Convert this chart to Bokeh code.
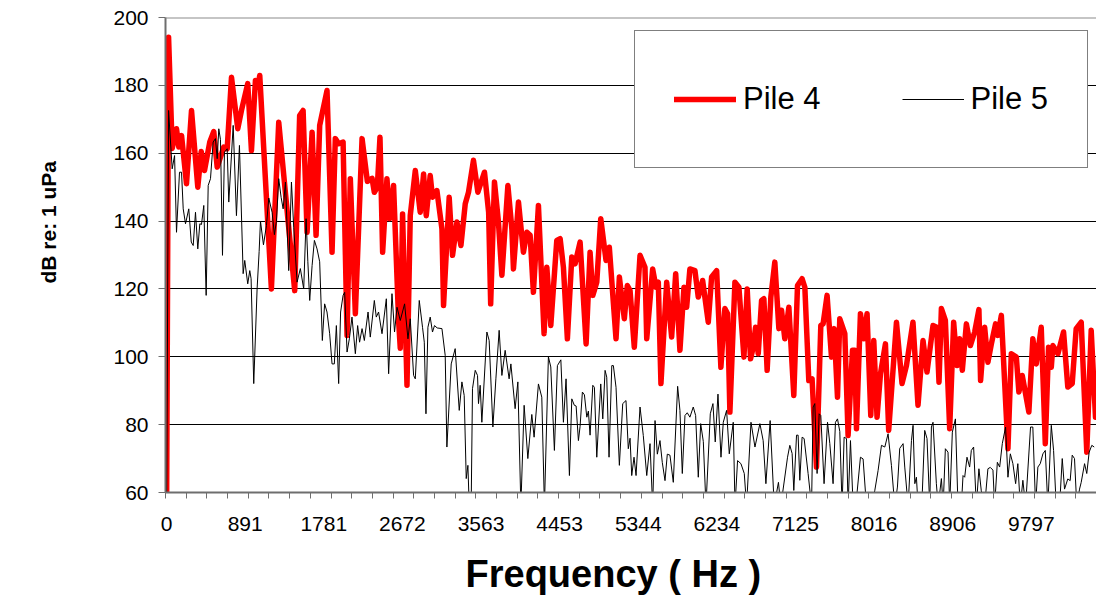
from bokeh.plotting import figure
from bokeh.models import (Range1d, FixedTicker, Legend, LegendItem, Span, Title)
from bokeh.embed import file_html
from bokeh.resources import INLINE

# ---------------- data ----------------
pile4_freq = [
    0, 23, 64, 113, 139, 170, 226, 283, 354, 393,
    430, 490, 535, 574, 648, 687, 736, 807, 849, 920,
    962, 1007, 1033, 1056, 1188, 1271, 1452, 1508, 1547, 1592,
    1649, 1694, 1735, 1818, 1875, 1912, 1950, 2000, 2045, 2082,
    2139, 2215, 2275, 2328, 2354, 2388, 2418, 2448, 2497, 2527,
    2572, 2629, 2648, 2674, 2724, 2761, 2818, 2874, 2912, 2942,
    2987, 3013, 3063, 3120, 3138, 3202, 3240, 3290, 3335, 3384,
    3421, 3477, 3527, 3602, 3649, 3672, 3715, 3760, 3799, 3867,
    3912, 3930, 3987, 4043, 4082, 4119, 4156, 4213, 4277, 4308,
    4353, 4421, 4459, 4496, 4541, 4591, 4628, 4685, 4753, 4798,
    4829, 4874, 4919, 4979, 5016, 5092, 5130, 5186, 5220, 5251,
    5299, 5364, 5420, 5440, 5507, 5545, 5571, 5601, 5666, 5722,
    5768, 5816, 5862, 5892, 5929, 5986, 6024, 6073, 6137, 6175,
    6232, 6280, 6325, 6356, 6382, 6439, 6484, 6541, 6578, 6616,
    6646, 6673, 6703, 6741, 6767, 6804, 6846, 6891, 6937, 6967,
    7004, 7050, 7106, 7148, 7200, 7231, 7276, 7313, 7363, 7412,
    7438, 7483, 7533, 7563, 7601, 7627, 7684, 7721, 7771, 7797,
    7816, 7861, 7898, 7936, 7978, 8012, 8049, 8088, 8144, 8181,
    8269, 8332, 8382, 8456, 8513, 8570, 8615, 8683, 8725, 8751,
    8778, 8823, 8872, 8917, 8955, 8985, 9015, 9061, 9106, 9155,
    9203, 9222, 9268, 9305, 9344, 9392, 9418, 9457, 9532, 9570,
    9627, 9656, 9694, 9769, 9814, 9853, 9909, 9955, 9992, 10023,
    10041, 10098, 10162, 10210, 10260, 10305, 10362, 10425, 10475, 10524,
]
pile4_db = [
    50, 194.2, 161.4, 167.2, 161.8, 165.2, 151.0, 172.6, 150.0, 160.5,
    154.9, 163.3, 166.4, 155.9, 161.8, 161.3, 182.4, 167.2, 172.6, 180.5,
    160.8, 181.4, 179.5, 182.9, 120.0, 169.1, 119.5, 171.1, 172.6, 136.7,
    166.2, 135.8, 168.2, 178.5, 130.8, 164.3, 162.8, 163.3, 106.3, 152.5,
    112.7, 164.3, 151.7, 152.6, 148.5, 150.0, 164.7, 130.8, 152.5, 140.7,
    150.5, 110.7, 102.5, 142.1, 91.6, 141.6, 154.9, 142.6, 153.9, 141.6,
    153.4, 147.0, 149.0, 137.7, 115.1, 147.0, 129.9, 139.7, 132.8, 145.1,
    148.5, 157.9, 148.5, 154.4, 142.6, 115.6, 151.5, 139.7, 124.0, 150.5,
    137.7, 125.9, 145.6, 130.8, 136.7, 135.8, 119.0, 144.6, 106.8, 126.4,
    109.2, 134.3, 134.8, 126.4, 105.3, 129.4, 127.4, 133.8, 103.8, 130.8,
    118.1, 122.0, 140.7, 128.4, 132.3, 105.3, 123.5, 111.2, 121.0, 119.5,
    102.8, 129.9, 126.4, 105.3, 125.9, 120.5, 122.0, 92.1, 122.0, 105.8,
    124.5, 101.9, 120.5, 114.6, 125.9, 125.4, 117.6, 122.5, 110.2, 123.5,
    125.4, 96.9, 114.2, 112.7, 83.7, 122.0, 120.5, 99.9, 120.0, 99.4,
    102.8, 108.7, 100.9, 116.6, 117.1, 96.0, 117.6, 127.9, 108.3, 113.7,
    105.3, 114.6, 88.6, 121.0, 123.0, 120.5, 93.0, 93.5, 67.5, 109.2,
    109.7, 118.1, 99.9, 108.3, 88.1, 111.2, 106.8, 76.8, 101.9, 101.9,
    78.8, 112.7, 105.3, 112.7, 82.7, 104.8, 82.2, 95.0, 103.8, 78.3,
    110.2, 92.1, 97.4, 110.2, 85.7, 104.8, 95.5, 109.2, 108.7, 92.5,
    114.2, 110.7, 78.8, 110.2, 97.4, 105.3, 96.0, 109.7, 103.3, 107.3,
    113.9, 93.0, 108.7, 98.4, 103.8, 109.7, 106.3, 112.2, 72.9, 100.9,
    99.9, 89.6, 94.5, 83.7, 105.3, 97.9, 108.7, 74.4, 102.8, 96.9,
    103.3, 100.9, 107.3, 91.1, 92.1, 108.3, 110.2, 71.9, 107.8, 82.2,
]

pile5_freq = [
    0, 23, 64, 91, 113, 147, 170, 189, 215, 252,
    280, 302, 328, 354, 377, 396, 422, 449, 472, 498,
    528, 554, 574, 592, 611, 634, 656, 687, 705, 755,
    792, 826, 868, 886, 920, 943, 958, 988, 1026, 1049,
    1064, 1098, 1132, 1158, 1196, 1222, 1245, 1271, 1298, 1321,
    1347, 1384, 1415, 1441, 1479, 1516, 1554, 1581, 1601, 1622,
    1649, 1675, 1705, 1735, 1765, 1791, 1818, 1848, 1875, 1901,
    1924, 1950, 1972, 2000, 2018, 2045, 2071, 2101, 2139, 2165,
    2187, 2215, 2241, 2283, 2308, 2354, 2376, 2402, 2441, 2490,
    2516, 2554, 2583, 2611, 2648, 2697, 2735, 2761, 2799, 2818,
    2863, 2900, 2920, 2939, 2961, 2987, 3013, 3036, 3066, 3120,
    3157, 3176, 3225, 3270, 3316, 3346, 3372, 3395, 3414, 3429,
    3451, 3466, 3497, 3523, 3534, 3553, 3572, 3629, 3655, 3697,
    3731, 3768, 3799, 3836, 3881, 3901, 3949, 3980, 4014, 4051,
    4093, 4138, 4164, 4213, 4251, 4281, 4326, 4353, 4394, 4428,
    4467, 4496, 4526, 4564, 4591, 4620, 4640, 4666, 4685, 4711,
    4734, 4761, 4779, 4798, 4829, 4847, 4874, 4919, 4942, 4968,
    4987, 5013, 5044, 5062, 5092, 5130, 5168, 5205, 5231, 5251,
    5270, 5296, 5319, 5364, 5401, 5440, 5477, 5507, 5534, 5560,
    5590, 5616, 5647, 5673, 5703, 5741, 5790, 5816, 5843, 5873,
    5899, 5929, 5967, 5994, 6024, 6051, 6081, 6111, 6160, 6190,
    6216, 6247, 6281, 6307, 6345, 6375, 6420, 6440, 6469, 6507,
    6545, 6571, 6621, 6666, 6722, 6759, 6790, 6838, 6884, 6932,
    6959, 7035, 7061, 7087, 7106, 7137, 7155, 7174, 7200, 7223,
    7268, 7307, 7325, 7344, 7370, 7393, 7412, 7449, 7488, 7514,
    7551, 7578, 7601, 7627, 7653, 7676, 7703, 7721, 7748, 7778,
    7808, 7861, 7891, 7929, 7986, 8023, 8061, 8099, 8137, 8174,
    8212, 8250, 8280, 8306, 8344, 8363, 8401, 8439, 8457, 8477,
    8495, 8514, 8556, 8589, 8615, 8646, 8665, 8683, 8721, 8742,
    8778, 8798, 8823, 8853, 8872, 8902, 8937, 8966, 9004, 9023,
    9042, 9068, 9098, 9117, 9143, 9174, 9203, 9230, 9268, 9305,
    9332, 9362, 9381, 9412, 9438, 9468, 9505, 9532, 9559, 9588,
    9619, 9644, 9672, 9701, 9732, 9788, 9814, 9845, 9871, 9898,
    9928, 9955, 9984, 10023, 10049, 10079, 10117, 10147, 10173, 10210,
    10237, 10260, 10286, 10312, 10343, 10362, 10400, 10425, 10452, 10482,
    10509,
]
pile5_db = [
    50, 172.6, 155.4, 159.3, 136.7, 154.4, 154.4, 143.6, 139.2, 143.6,
    133.8, 132.8, 142.6, 131.8, 139.2, 139.0, 144.6, 118.1, 150.5, 152.5,
    163.3, 164.3, 158.4, 167.2, 164.0, 129.9, 160.3, 161.3, 145.6, 168.2,
    141.6, 162.3, 124.5, 128.4, 121.5, 125.4, 123.0, 92.1, 120.0, 131.0,
    140.0, 133.0, 138.7, 146.8, 142.6, 136.0, 140.0, 152.5, 147.0, 143.6,
    151.5, 125.4, 151.5, 138.0, 122.0, 126.0, 120.0, 140.7, 128.0, 116.6,
    126.9, 134.3, 131.8, 128.0, 104.8, 115.6, 113.2, 106.8, 97.9, 97.9,
    109.2, 92.1, 113.2, 118.1, 119.0, 101.4, 105.3, 111.7, 100.9, 109.2,
    104.3, 108.3, 104.8, 113.2, 105.8, 116.6, 111.7, 113.2, 106.8, 117.1,
    95.0, 118.6, 107.3, 114.6, 110.7, 115.6, 105.3, 111.2, 94.5, 93.5,
    116.6, 108.7, 104.3, 83.2, 108.7, 111.7, 107.3, 109.2, 108.5, 108.3,
    100.4, 73.4, 97.9, 102.4, 84.2, 92.6, 88.6, 64.1, 68.0, 56,
    56, 90.6, 96.0, 94.5, 86.2, 91.6, 80.7, 107.3, 104.8, 79.3,
    93.5, 107.8, 94.5, 101.9, 93.5, 97.9, 84.7, 92.6, 56, 85.7,
    70.0, 83.0, 76.3, 92.0, 88.1, 56, 100.0, 97.0, 72.4, 97.4,
    99.1, 80.7, 93.5, 65.0, 87.6, 85.7, 85.5, 75.3, 79.5, 89.6,
    88.8, 82.2, 84.0, 76.9, 91.6, 91.0, 70.4, 92.0, 81.7, 96.0,
    94.0, 70.4, 97.4, 97.4, 91.0, 68.0, 86.2, 87.1, 72.9, 76.0,
    65.0, 70.4, 65.0, 85.2, 76.8, 65.0, 74.4, 56, 81.2, 71.3,
    75.3, 68.9, 63.5, 71.3, 71.0, 63.0, 91.3, 84.2, 65.6, 82.7,
    83.5, 82.2, 85.2, 82.7, 64.5, 80.3, 75.0, 56, 83.2, 86.2,
    74.9, 89.0, 70.4, 80.7, 84.2, 71.4, 80.7, 56, 69.4, 68.5,
    65.6, 56, 80.7, 73.4, 80.3, 75.3, 62.6, 81.2, 56, 63.0,
    56, 70.4, 73.9, 71.5, 60.6, 76.9, 76.9, 63.6, 76.3, 75.9,
    65.6, 56, 85.2, 86.2, 65.6, 83.2, 82.7, 62.6, 80.7, 74.4,
    62.6, 80.7, 81.7, 78.0, 56, 76.3, 75.9, 56, 75.3, 56,
    56, 70.4, 69.9, 56, 56, 60.5, 66.5, 73.9, 73.4, 77.3,
    68.0, 56, 61.6, 73.0, 74.4, 67.5, 56, 75.3, 79.8, 62.6,
    64.5, 56, 56, 78.3, 75.9, 56, 79.3, 80.7, 62.6, 56,
    64.1, 56, 72.9, 71.9, 56, 77.8, 81.7, 56, 56, 65.0,
    64.5, 70.4, 67.5, 72.4, 73.4, 56, 67.0, 60.5, 56, 67.0,
    67.4, 66.6, 56, 68.9, 67.5, 74.4, 79.3, 64.5, 71.4, 68.5,
    62.6, 68.5, 56, 63.6, 56, 79.3, 79.3, 56, 67.5, 68.5,
    71.4, 72.4, 56, 79.8, 72.4, 56, 56, 70.0, 61.0, 64.0,
    63.5, 71.0, 70.0, 56, 61.0, 63.0, 68.5, 65.6, 71.9, 73.9,
    73.4,
]

series_names = ["Pile 4", "Pile 5"]
y_ticks = [60, 80, 100, 120, 140, 160, 180, 200]
x_tick_values = [0, 890.625, 1781.25, 2671.875, 3562.5, 4453.125, 5343.75,
                 6234.375, 7125, 8015.625, 8906.25, 9796.875]
x_tick_labels = ["0", "891", "1781", "2672", "3563", "4453", "5344",
                 "6234", "7125", "8016", "8906", "9797"]
bin_width = 23.4375     # Hz per spectrum bin (category)
n_bins = 450
x_title = "Frequency ( Hz )"
y_title = "dB re: 1 uPa"

# ---------------- figure ----------------
x_start = -bin_width / 2
x_end = (n_bins - 0.5) * bin_width
x_minor = [x_start + 10 * bin_width * m for m in range(n_bins // 10 + 1)]

p = figure(width=1096, height=598, output_backend="svg", toolbar_location=None,
           x_range=Range1d(x_start, x_end), y_range=Range1d(60, 200),
           min_border_left=165, min_border_right=0, min_border_top=17,
           min_border_bottom=106)
p.outline_line_color = None
p.background_fill_color = "white"
p.border_fill_color = "white"

axis_color = "#6e6e6e"
font = "Liberation Sans"

# y axis
p.yaxis.ticker = FixedTicker(ticks=y_ticks)
p.yaxis.axis_line_color = axis_color
p.yaxis.axis_line_width = 2
p.yaxis.major_tick_line_color = axis_color
p.yaxis.major_tick_out = 7
p.yaxis.major_tick_in = 0
p.yaxis.minor_tick_line_color = None
p.yaxis.major_label_text_font = font
p.yaxis.major_label_text_font_size = "21px"
p.yaxis.major_label_text_color = "black"
p.yaxis.major_label_standoff = 10

# x axis
p.xaxis.ticker = FixedTicker(ticks=x_tick_values, minor_ticks=x_minor)
p.xaxis.major_label_overrides = {v: s for v, s in zip(x_tick_values, x_tick_labels)}
p.xaxis.axis_line_color = axis_color
p.xaxis.axis_line_width = 2
p.xaxis.major_tick_out = 0
p.xaxis.major_tick_in = 0
p.xaxis.major_tick_line_color = None
p.xaxis.minor_tick_line_color = axis_color
p.xaxis.minor_tick_out = 6
p.xaxis.minor_tick_in = 0
p.xaxis.major_label_text_font = font
p.xaxis.major_label_text_font_size = "21px"
p.xaxis.major_label_text_color = "black"
p.xaxis.major_label_standoff = 18

# grid
p.xgrid.visible = False
p.ygrid.ticker = FixedTicker(ticks=y_ticks[1:-1])
p.ygrid.grid_line_color = "black"
p.ygrid.grid_line_width = 1
p.add_layout(Span(location=y_ticks[-1], dimension="width",
                  line_color="#8c8c8c", line_width=2))

# series
r4 = p.line(pile4_freq, pile4_db, line_color="#ff0000", line_width=5.5,
            line_join="round", line_cap="round")
r5 = p.line(pile5_freq, pile5_db, line_color="black", line_width=1)

legend = Legend(items=[LegendItem(label=series_names[0], renderers=[r4]),
                       LegendItem(label=series_names[1], renderers=[r5])],
                orientation="horizontal", location=(469, 324), margin=0,
                padding=39, spacing=81, glyph_width=62, glyph_height=20,
                label_standoff=7, label_height=58,
                label_text_font=font, label_text_font_size="31px",
                label_text_color="black",
                border_line_color="black", border_line_width=1,
                background_fill_color="white", background_fill_alpha=1.0)
p.add_layout(legend)

# axis titles: an empty spacer panel pushes each title away from its axis,
# and left-alignment with an offset puts it off-centre like the original
p.add_layout(Title(text=" ", text_font_size="1px", standoff=14), "below")
p.add_layout(Title(text=x_title, align="left", offset=300, standoff=0,
                   text_font=font, text_font_style="bold",
                   text_font_size="38px", text_color="black"), "below")
p.add_layout(Title(text=" ", text_font_size="1px", standoff=48), "left")
p.add_layout(Title(text=y_title, align="left", offset=209, standoff=0,
                   text_font=font, text_font_style="bold",
                   text_font_size="21px", text_color="black"), "left")

open("out.html", "w").write(file_html(p, INLINE))
